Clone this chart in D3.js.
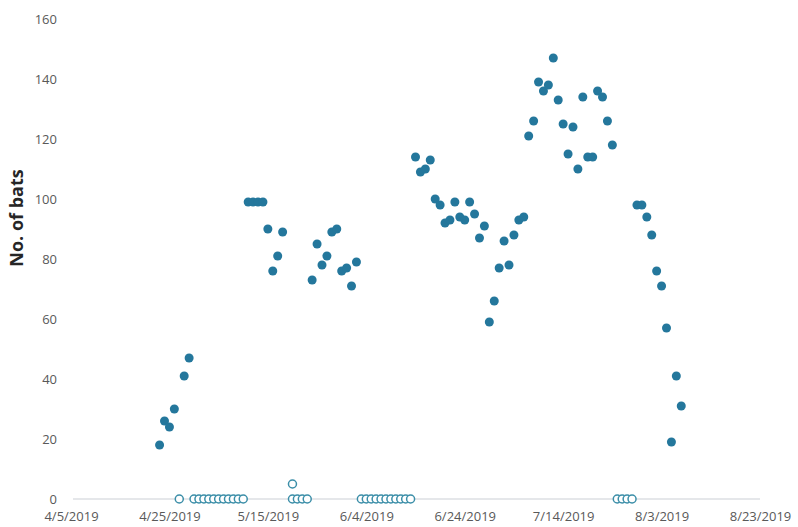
<!DOCTYPE html>
<html>
<head>
<meta charset="utf-8">
<script src="https://cdn.jsdelivr.net/npm/d3@7"></script>
<style>
  html, body { margin: 0; padding: 0; background: #ffffff; }
  svg { display: block; }
  text { font-family: "Open Sans", "Segoe UI", sans-serif; }
</style>
</head>
<body>
<svg id="chart" width="798" height="527"></svg>
<script>
// ---- Data ----
const startDate = "2019-04-05";
const endDate = "2019-08-23";
const xTickLabels = ["4/5/2019", "4/25/2019", "5/15/2019", "6/4/2019", "6/24/2019", "7/14/2019", "8/3/2019", "8/23/2019"];
const yTickValues = [0, 20, 40, 60, 80, 100, 120, 140, 160];

// Filled series: dates and bat counts
const countDates = [
  "2019-04-23","2019-04-24","2019-04-25","2019-04-26","2019-04-28","2019-04-29",
  "2019-05-11","2019-05-12","2019-05-13","2019-05-14",
  "2019-05-15","2019-05-16","2019-05-17","2019-05-18",
  "2019-05-24","2019-05-25","2019-05-26","2019-05-27","2019-05-28","2019-05-29",
  "2019-05-30","2019-05-31","2019-06-01","2019-06-02",
  "2019-06-14","2019-06-15","2019-06-16","2019-06-17","2019-06-18","2019-06-19",
  "2019-06-20","2019-06-21","2019-06-22","2019-06-23","2019-06-24","2019-06-25",
  "2019-06-26","2019-06-27","2019-06-28","2019-06-29","2019-06-30","2019-07-01",
  "2019-07-02","2019-07-03","2019-07-04","2019-07-05","2019-07-06",
  "2019-07-07","2019-07-08","2019-07-09","2019-07-10","2019-07-11","2019-07-12",
  "2019-07-13","2019-07-14","2019-07-15","2019-07-16","2019-07-17","2019-07-18",
  "2019-07-19","2019-07-20","2019-07-21","2019-07-22","2019-07-23","2019-07-24",
  "2019-07-29","2019-07-30","2019-07-31","2019-08-01","2019-08-02","2019-08-03",
  "2019-08-04","2019-08-05","2019-08-06","2019-08-07"
];
const countValues = [
  18, 26, 24, 30, 41, 47,
  99, 99, 99, 99,
  90, 76, 81, 89,
  73, 85, 78, 81, 89, 90,
  76, 77, 71, 79,
  114, 109, 110, 113, 100, 98,
  92, 93, 99, 94, 93, 99,
  95, 87, 91, 59, 66, 77,
  86, 78, 88, 93, 94,
  121, 126, 139, 136, 138, 147,
  133, 125, 115, 124, 110, 134,
  114, 114, 136, 134, 126, 118,
  98, 98, 94, 88, 76, 71,
  57, 19, 41, 31
];

// Open-circle series: dates and values (zero counts and one small count)
const zeroDates = [
  "2019-04-27",
  "2019-04-30","2019-05-01","2019-05-02","2019-05-03","2019-05-04","2019-05-05",
  "2019-05-06","2019-05-07","2019-05-08","2019-05-09","2019-05-10",
  "2019-05-20","2019-05-20","2019-05-21","2019-05-22","2019-05-23",
  "2019-06-03","2019-06-04","2019-06-05","2019-06-06","2019-06-07","2019-06-08",
  "2019-06-09","2019-06-10","2019-06-11","2019-06-12","2019-06-13",
  "2019-07-25","2019-07-26","2019-07-27","2019-07-28"
];
const zeroValues = [
  0,
  0, 0, 0, 0, 0, 0, 0, 0, 0, 0, 0,
  5, 0, 0, 0, 0,
  0, 0, 0, 0, 0, 0, 0, 0, 0, 0, 0,
  0, 0, 0, 0
];

// ---- Drawing ----
const parse = d3.utcParse("%Y-%m-%d");
const svg = d3.select("#chart");

const x = d3.scaleUtc()
  .domain([parse(startDate), parse(endDate)])
  .range([71, 760]);
const y = d3.scaleLinear()
  .domain([0, 160])
  .range([499, 19]);

// Baseline at zero
svg.append("line")
  .attr("x1", 73).attr("x2", 760)
  .attr("y1", y(0)).attr("y2", y(0))
  .attr("stroke", "#dcdfe3")
  .attr("stroke-width", 1.5);

// Y axis (labels only)
const yAxis = d3.axisLeft(y).tickValues(yTickValues).tickSize(0).tickPadding(0);
const gy = svg.append("g").attr("transform", "translate(57,0)").call(yAxis);
gy.select(".domain").remove();
gy.selectAll("text")
  .attr("fill", "#595959")
  .style("font-size", "13px")
  .style("font-family", "'Open Sans', sans-serif");

// X axis (labels only)
const xTickDates = d3.range(xTickLabels.length).map(i => d3.utcDay.offset(parse(startDate), i * 20));
const xAxis = d3.axisBottom(x).tickValues(xTickDates).tickSize(0).tickPadding(0)
  .tickFormat((d, i) => xTickLabels[i]);
const gx = svg.append("g").attr("transform", "translate(0,512)").call(xAxis);
gx.select(".domain").remove();
gx.selectAll("text")
  .attr("fill", "#595959")
  .style("font-size", "13px")
  .style("font-family", "'Open Sans', sans-serif");

// Y axis title
svg.append("text")
  .attr("transform", "translate(23,218) rotate(-90)")
  .attr("text-anchor", "middle")
  .attr("fill", "#262626")
  .style("font-size", "18px")
  .style("font-weight", "bold")
  .text("No. of bats");

// Open circles
svg.append("g").selectAll("circle")
  .data(zeroDates.map((d, i) => ({ date: parse(d), value: zeroValues[i] })))
  .join("circle")
  .attr("cx", d => x(d.date))
  .attr("cy", d => y(d.value))
  .attr("r", 4)
  .attr("fill", "#ffffff")
  .attr("stroke", "#3b8ea8")
  .attr("stroke-width", 1.5);

// Filled points
svg.append("g").selectAll("circle")
  .data(countDates.map((d, i) => ({ date: parse(d), value: countValues[i] })))
  .join("circle")
  .attr("cx", d => x(d.date))
  .attr("cy", d => y(d.value))
  .attr("r", 4.5)
  .attr("fill", "#24779c");
</script>
</body>
</html>
